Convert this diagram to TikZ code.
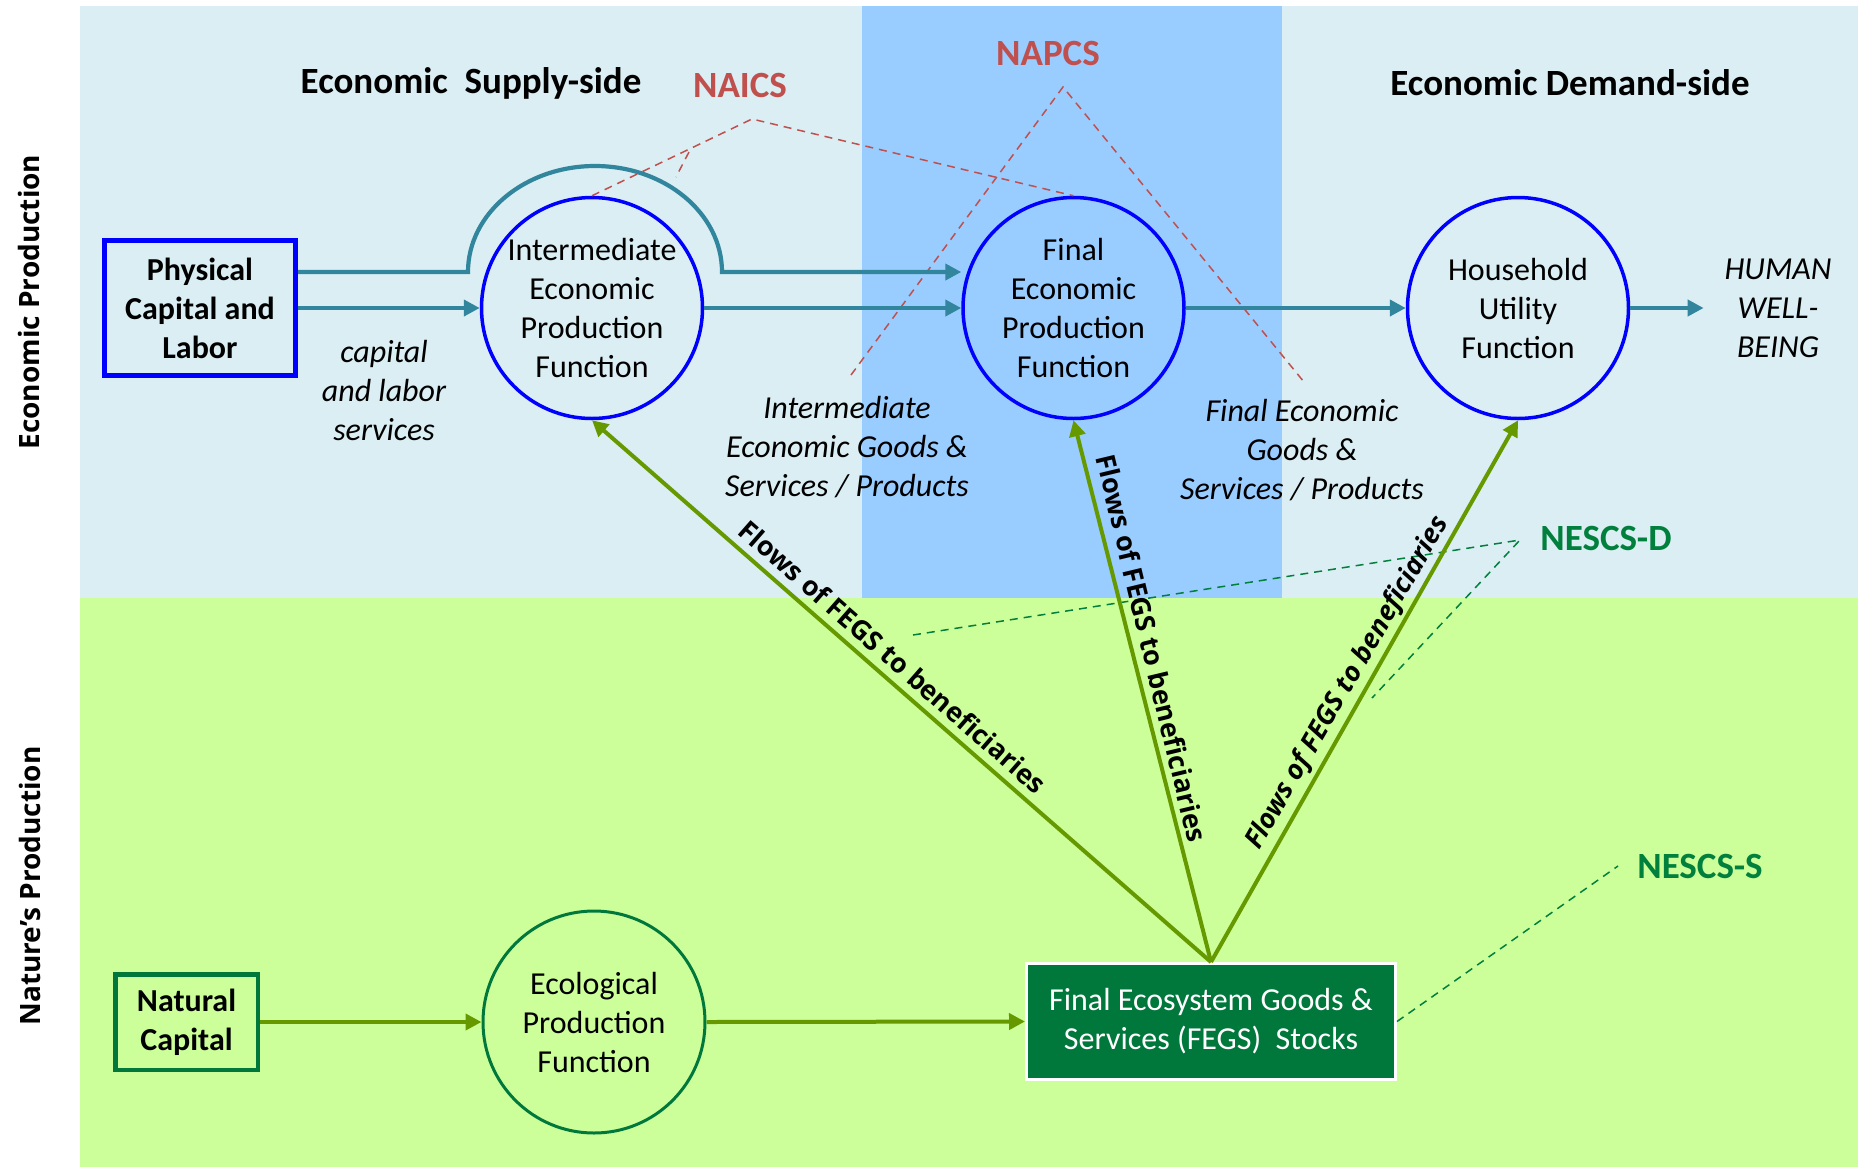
\documentclass[tikz,border=0pt]{standalone}
\usepackage{fontspec}
\setmainfont{Carlito}
\newfontfamily\opensans{Open Sans}
\usetikzlibrary{arrows.meta}
\definecolor{bgecon}{HTML}{DAEEF3}
\definecolor{bgband}{HTML}{99CCFF}
\definecolor{bgnat}{HTML}{CCFF99}
\definecolor{tealc}{HTML}{31859C}
\definecolor{bluec}{HTML}{0000FF}
\definecolor{olivec}{HTML}{669900}
\definecolor{dgreen}{HTML}{00783C}
\definecolor{nescs}{HTML}{00803C}
\definecolor{redc}{HTML}{C0504D}
\begin{document}
\begin{tikzpicture}[x=0.5pt,y=-0.5pt,
  base/.style={font=\fontsize{16pt}{19.5pt}\selectfont, align=center, inner sep=0pt},
  basebold/.style={base, font=\fontsize{16pt}{19.5pt}\selectfont\bfseries},
  econfn/.style={base, circle, draw=bluec, line width=1.75pt, minimum size=110.5pt},
  ecofn/.style={base, circle, draw=dgreen, line width=1.5pt, minimum size=111pt},
  itlabel/.style={base, font=\fontsize{16pt}{19.5pt}\selectfont\itshape},
  titletext/.style={inner sep=0pt, font=\fontsize{18.5pt}{22pt}\selectfont\bfseries},
  tealarrow/.style={draw=tealc, line width=2.1pt, -{Triangle[length=8pt,width=8pt]}},
  greenarrow/.style={draw=olivec, line width=2pt, -{Triangle[length=8pt,width=8pt]}},
  reddash/.style={draw=redc, line width=0.75pt, dash pattern=on 4pt off 3pt},
  greendash/.style={draw=nescs, line width=0.75pt, dash pattern=on 4pt off 3pt},
  flowlabel/.style={inner sep=0pt, font=\opensans\fontsize{13.5pt}{16pt}\selectfont\bfseries},
  sidelabel/.style={inner sep=0pt, rotate=90, font=\opensans\fontsize{14pt}{16pt}\selectfont\bfseries},
]
\useasboundingbox (0,0) rectangle (1860,1169);
\fill[white] (0,0) rectangle (1860,1169);
% backgrounds
\fill[bgecon] (80,6) rectangle (1858,598);
\fill[bgband] (862,6) rectangle (1282,598);
\fill[bgnat] (80,598) rectangle (1858,1167);

% side labels
\node[sidelabel] (econprod) at (29,302) {Economic Production};
\node[sidelabel] (natprod) at (30,886) {Nature’s Production};

% titles
\node[titletext] (supply) at (471,83) {Economic\ \ Supply-side};
\node[titletext] (demand) at (1570,83) {Economic Demand-side};
\node[titletext, text=redc] (naics) at (740,85) {NAICS};
\node[titletext, text=redc] (napcs) at (1048,53) {NAPCS};
\node[titletext, text=nescs] (nescsd) at (1606,538) {NESCS-D};
\node[titletext, text=nescs] (nescss) at (1700,866) {NESCS-S};

% main nodes
\node[basebold, draw=bluec, line width=2.5pt, minimum width=95.5pt, minimum height=67.5pt] (phys) at (200,308) {Physical\\Capital and\\Labor};
\node[econfn] (inter) at (592,308) {Intermediate\\Economic\\Production\\Function};
\node[econfn] (final) at (1073.5,308) {Final\\Economic\\Production\\Function};
\node[econfn] (house) at (1518,308) {Household\\Utility\\Function};
\node[itlabel] (human) at (1778,308) {HUMAN\\WELL-\\BEING};

\node[basebold, draw=dgreen, line width=2.25pt, minimum width=71.25pt, minimum height=47.75pt] (natcap) at (186.5,1022) {Natural\\Capital};
\node[ecofn] (eco) at (594,1022) {Ecological\\Production\\Function};
\node[base, fill=dgreen, draw=white, line width=1.5pt, minimum width=184.5pt, minimum height=58pt, text=white] (fegs) at (1211,1021.5) {Final Ecosystem Goods \&\\Services (FEGS)\ \ Stocks};

% italic labels
\node[itlabel] (caplbl) at (384,390) {capital\\and labor\\services};
\node[itlabel] (intgoods) at (847,447) {Intermediate\\Economic Goods \&\\Services / Products};
\node[itlabel] (fingoods) at (1302,450) {Final Economic\\Goods \&\\Services / Products};

% coordinates
\coordinate (byL) at (468,272);
\coordinate (naicsA) at (752,119);
\coordinate (naicsT) at (689,152);
\coordinate (naicsTe) at (676,177);
\coordinate (napcsA) at (1063,87);
\coordinate (napcsL) at (851,375);
\coordinate (napcsR) at (1304,382);
\coordinate (nescsdA) at (1520,540);
\coordinate (nescsdL) at (913,635);
\coordinate (nescsdR) at (1372,698);
\coordinate (nescssA) at (1618,866);

% dashed classification lines
\draw[reddash] (inter.north) -- (naicsA) -- (final.north);
\draw[reddash] (naicsT) -- (naicsTe);
\draw[reddash] (napcsL) -- (napcsA) -- (napcsR);
\draw[greendash] (nescsdL) -- (nescsdA) -- (nescsdR);
\draw[greendash] (fegs.east) -- (nescssA);

% economic arrows
\draw[tealarrow] (phys.east) -- (inter.west);
\draw[tealarrow] (phys.east |- byL) -- (byL) arc[start angle=180, end angle=0, x radius=63.5pt, y radius=53pt] -- (final.west |- byL);
\draw[tealarrow] (inter.east) -- (final.west);
\draw[tealarrow] (final.east) -- (house.west);
\draw[tealarrow, shorten >=10.25pt] (house.east) -- (human.west);

% nature arrows
\draw[greenarrow] (natcap.east) -- (eco.west);
\draw[greenarrow] (eco.east) -- (fegs.west);
\draw[greenarrow] (fegs.north) -- (inter.south);
\draw[greenarrow] (fegs.north) -- (final.south);
\draw[greenarrow] (fegs.north) -- (house.south);

% flow labels
\node[flowlabel, rotate=-41.2] (flowA) at (893,657) {Flows of FEGS to beneficiaries};
\node[flowlabel, rotate=-76.5] (flowB) at (1152,648) {Flows of FEGS to beneficiaries};
\node[flowlabel, rotate=60, font=\opensans\fontsize{13.5pt}{16pt}\selectfont\bfseries\itshape] (flowC) at (1348,683) {Flows of FEGS to beneficiaries};
\end{tikzpicture}
\end{document}
